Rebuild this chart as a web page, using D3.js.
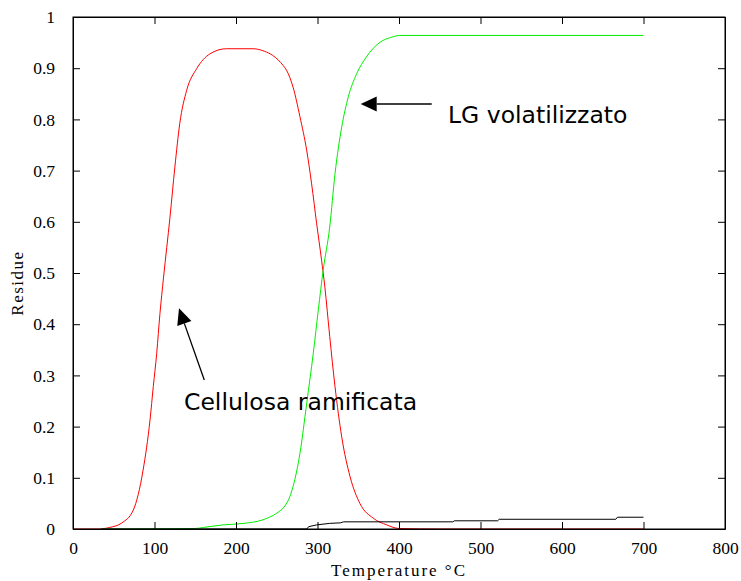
<!DOCTYPE html>
<html>
<head>
<meta charset="utf-8">
<script src="https://cdn.jsdelivr.net/npm/d3@7"></script>
<style>
  body { margin: 0; background: #fff; }
  svg { display: block; }
</style>
</head>
<body>
<div class="container"></div>
<script>
// temperatures (°C) and residues
const redTemps = [0, 30, 45, 60, 74, 86, 94.5, 98.5, 102.7, 106.7, 111, 119, 125, 131, 139.5, 151.7, 168, 188, 221, 235, 245, 258, 262, 270, 278.5, 286.7, 292.8, 299, 305, 309, 315, 321.5, 329.7, 340, 352, 368.5, 385, 400, 450, 700];
const redValues = [0, 0, 0.003, 0.012, 0.037, 0.115, 0.213, 0.278, 0.343, 0.421, 0.49, 0.609, 0.707, 0.792, 0.857, 0.899, 0.928, 0.938, 0.938, 0.933, 0.925, 0.905, 0.896, 0.863, 0.805, 0.74, 0.674, 0.596, 0.525, 0.473, 0.376, 0.278, 0.18, 0.102, 0.05, 0.021, 0.008, 0.001, 0, 0];

const greenTemps = [35, 150, 160, 184, 210, 233, 250, 260, 266, 270, 278.5, 286.7, 294.8, 301, 307, 315, 321.5, 329.7, 337.8, 348, 360, 377, 390, 401, 700];
const greenValues = [0, 0.001, 0.003, 0.008, 0.011, 0.018, 0.031, 0.045, 0.063, 0.083, 0.148, 0.245, 0.343, 0.428, 0.506, 0.59, 0.694, 0.785, 0.844, 0.889, 0.922, 0.951, 0.96, 0.964, 0.964];

const blackTemps = [35, 287, 289, 299, 315, 328, 332, 466, 468, 521, 523, 666, 668, 700];
const blackValues = [0, 0, 0.0045, 0.008, 0.011, 0.012, 0.014, 0.014, 0.016, 0.016, 0.019, 0.019, 0.023, 0.023];

const xTicks = [0, 100, 200, 300, 400, 500, 600, 700, 800];
const yTicks = [0, 0.1, 0.2, 0.3, 0.4, 0.5, 0.6, 0.7, 0.8, 0.9, 1];

const W = 741, H = 581;
const margin = {left: 73, top: 17, right: 16, bottom: 52};
const iw = W - margin.left - margin.right;
const ih = H - margin.top - margin.bottom;

const svg = d3.select('.container')
    .append('svg')
    .attr('width', W)
    .attr('height', H);

const x = d3.scaleLinear().domain([0, 800]).range([0, iw]);
const y = d3.scaleLinear().domain([0, 1]).range([ih, 0]);

const g = svg.append('g').attr('transform', `translate(${margin.left},${margin.top})`);

let zip = (ts, vs) => ts.map((t, i) => ({t: t, v: vs[i]}));

let lineSmooth = d3.line().x(d => x(d.t)).y(d => y(d.v)).curve(d3.curveMonotoneX);
let lineStep = d3.line().x(d => x(d.t)).y(d => y(d.v));

g.append('path').datum(zip(redTemps, redValues))
    .attr('d', lineSmooth).attr('fill', 'none').attr('stroke', '#ff0000').attr('stroke-width', 1);
g.append('path').datum(zip(greenTemps, greenValues))
    .attr('d', lineSmooth).attr('fill', 'none').attr('stroke', '#00ee00').attr('stroke-width', 1);
g.append('path').datum(zip(blackTemps, blackValues))
    .attr('d', lineStep).attr('fill', 'none').attr('stroke', '#000').attr('stroke-width', 1);

// axes (ticks pointing inward, box style)
let fmt = d => d3.format('~g')(d);

g.append('g').attr('transform', `translate(0,${ih})`)
    .call(d3.axisBottom(x).tickValues(xTicks).tickSizeInner(-7).tickSizeOuter(0).tickPadding(13).tickFormat(fmt));
g.append('g')
    .call(d3.axisTop(x).tickValues(xTicks).tickSizeInner(-7).tickSizeOuter(0).tickFormat(''));
g.append('g')
    .call(d3.axisLeft(y).tickValues(yTicks).tickSizeInner(-7).tickSizeOuter(0).tickPadding(18).tickFormat(fmt));
g.append('g').attr('transform', `translate(${iw},0)`)
    .call(d3.axisRight(y).tickValues(yTicks).tickSizeInner(-7).tickSizeOuter(0).tickFormat(''));

g.selectAll('.domain').attr('stroke', '#000');
g.selectAll('.tick line').attr('stroke', '#000');
g.selectAll('.tick text')
    .attr('fill', '#000')
    .style('font-family', '"Liberation Serif", "Times New Roman", serif')
    .style('font-size', '17.5px');

g.append('rect').attr('width', iw).attr('height', ih)
    .attr('fill', 'none').attr('stroke', '#000').attr('stroke-width', 1);

// axis titles
svg.append('text')
    .attr('x', margin.left + iw / 2).attr('y', 576)
    .attr('text-anchor', 'middle')
    .style('font-family', '"Liberation Serif", serif').style('font-size', '17px').style('letter-spacing', '2px')
    .text('Temperature °C');

svg.append('text')
    .attr('transform', `translate(23,${margin.top + ih / 2 + 10}) rotate(-90)`)
    .attr('text-anchor', 'middle')
    .style('font-family', '"Liberation Serif", serif').style('font-size', '17px').style('letter-spacing', '1.5px')
    .text('Residue');

// annotations
let arrow = (x1, y1, x2, y2) => {
    let ang = Math.atan2(y2 - y1, x2 - x1);
    let len = 16, half = 7.5;
    let bx = x2 - len * Math.cos(ang), by = y2 - len * Math.sin(ang);
    svg.append('line').attr('x1', x1).attr('y1', y1).attr('x2', bx).attr('y2', by)
        .attr('stroke', '#000').attr('stroke-width', 1.3);
    svg.append('path')
        .attr('d', `M${x2},${y2}L${bx + half * Math.sin(ang)},${by - half * Math.cos(ang)}L${bx - half * Math.sin(ang)},${by + half * Math.cos(ang)}Z`)
        .attr('fill', '#000');
};

arrow(431.7, 104, 360.7, 104);
arrow(204.3, 380, 179, 308.3);

svg.append('text').attr('x', 448).attr('y', 123)
    .style('font-family', '"DejaVu Sans", sans-serif').style('font-size', '23.5px')
    .text('LG volatilizzato');
svg.append('text').attr('x', 184).attr('y', 410)
    .style('font-family', '"DejaVu Sans", sans-serif').style('font-size', '23.5px')
    .text('Cellulosa ramificata');
</script>
</body>
</html>
